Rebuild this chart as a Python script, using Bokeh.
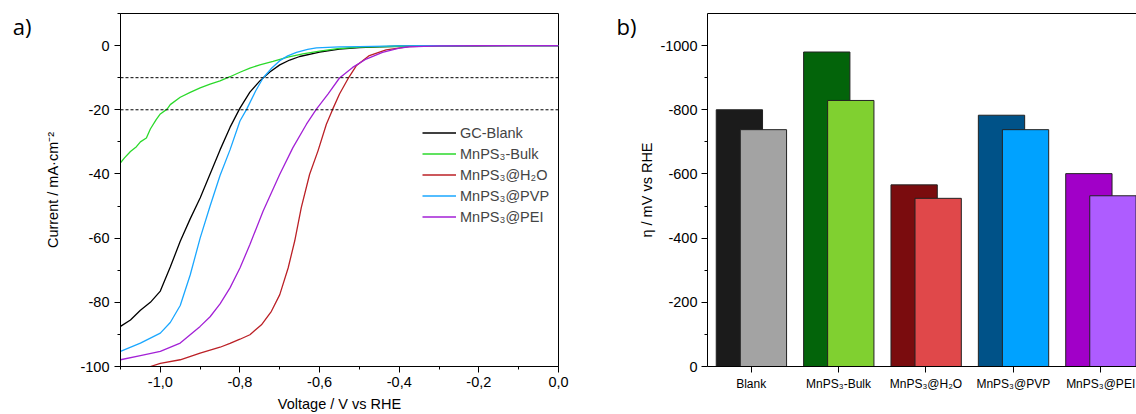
import numpy as np
from bokeh.plotting import figure
from bokeh.layouts import row
from bokeh.models import (Range1d, FixedTicker, Span, Legend, LegendItem,
                          LinearAxis, CustomJSTickFormatter, ColumnDataSource)
from bokeh.transform import dodge
from bokeh.embed import file_html
from bokeh.resources import INLINE

# ---------------- Panel a) polarisation curves ----------------
v_blank = [-1.10, -1.075, -1.05, -1.025, -1.00, -0.975, -0.95, -0.925, -0.90, -0.875, -0.85,
           -0.825, -0.80, -0.775, -0.75, -0.725, -0.70, -0.675, -0.65, -0.60, -0.55, -0.50,
           -0.45, -0.40, -0.30, -0.20, -0.10, 0.0]
j_blank = [-87.5, -85.5, -82.5, -80.0, -76.5, -69.0, -61.0, -54.0, -47.5, -40.0, -32.5,
           -25.5, -19.5, -14.5, -11.0, -8.2, -6.0, -4.5, -3.4, -2.0, -1.1, -0.6,
           -0.4, -0.2, -0.1, -0.05, 0.0, 0.0]

v_bulk = [-1.10, -1.09, -1.075, -1.06, -1.05, -1.035, -1.025, -1.01, -1.00, -0.983, -0.975,
          -0.95, -0.925, -0.90, -0.875, -0.85, -0.825, -0.80, -0.775, -0.75, -0.717, -0.68,
          -0.642, -0.60, -0.55, -0.50, -0.40, -0.30, -0.20, 0.0]
j_bulk = [-36.5, -35.0, -33.0, -31.5, -30.0, -28.8, -26.0, -23.0, -21.3, -19.8, -18.4,
          -16.1, -14.6, -13.2, -12.0, -11.0, -9.7, -8.3, -7.0, -6.0, -4.9, -3.6,
          -2.6, -1.7, -0.9, -0.5, -0.2, -0.1, 0.0, 0.0]

v_h2o = [-1.10, -1.05, -1.025, -1.00, -0.95, -0.90, -0.85, -0.825, -0.80, -0.775, -0.746,
         -0.721, -0.70, -0.679, -0.6625, -0.646, -0.625, -0.604, -0.583, -0.567, -0.55,
         -0.529, -0.508, -0.475, -0.433, -0.375, -0.30, -0.20, 0.0]
j_h2o = [-103.0, -101.0, -100.0, -99.0, -97.9, -95.8, -94.0, -92.8, -91.5, -90.1, -87.0,
         -82.8, -77.6, -69.3, -60.9, -50.5, -40.1, -32.8, -24.5, -19.8, -15.1,
         -10.4, -6.3, -3.1, -1.35, -0.3, -0.1, 0.0, 0.0]

v_pvp = [-1.10, -1.05, -1.00, -0.975, -0.95, -0.925, -0.90, -0.875, -0.85, -0.825, -0.80,
         -0.783, -0.76, -0.742, -0.72, -0.70, -0.68, -0.658, -0.63, -0.608, -0.55, -0.50,
         -0.40, -0.30, -0.20, 0.0]
j_pvp = [-95.3, -92.7, -89.6, -86.3, -81.0, -71.5, -60.0, -50.0, -40.5, -32.5, -23.5,
         -19.8, -14.0, -10.1, -7.0, -4.7, -3.2, -2.1, -1.2, -0.7, -0.4, -0.3,
         -0.1, -0.05, 0.0, 0.0]

v_pei = [-1.10, -1.05, -1.00, -0.95, -0.90, -0.875, -0.85, -0.825, -0.80, -0.775, -0.742,
         -0.70, -0.667, -0.633, -0.608, -0.579, -0.55, -0.517, -0.483, -0.442, -0.40,
         -0.375, -0.30, -0.20, 0.0]
j_pei = [-97.9, -96.6, -95.3, -92.7, -87.5, -84.5, -80.5, -75.5, -69.3, -62.0, -51.6,
         -40.1, -31.8, -24.5, -19.8, -15.1, -10.1, -6.8, -4.2, -2.1, -0.8,
         -0.4, -0.1, 0.0, 0.0]

series_names = ["GC-Blank", "MnPS\u2083-Bulk", "MnPS\u2083@H\u2082O", "MnPS\u2083@PVP", "MnPS\u2083@PEI"]
series_colors = ["#000000", "#2bd92b", "#bb2026", "#1aa7ff", "#a321d6"]
reference_currents = [-10, -20]

x_major = [-1.0, -0.8, -0.6, -0.4, -0.2, 0.0]
x_minor = [-1.1, -0.9, -0.7, -0.5, -0.3, -0.1]
y_major = [0, -20, -40, -60, -80, -100]
y_minor = [10, -10, -30, -50, -70, -90]

# ---------------- Panel b) overpotentials ----------------
categories = ["Blank", "MnPS\u2083-Bulk", "MnPS\u2083@H\u2082O", "MnPS\u2083@PVP", "MnPS\u2083@PEI"]
eta_20 = [-800, -980, -566, -783, -601]
eta_10 = [-738, -829, -524, -738, -532]
dark_colors = ["#1b1b1b", "#03640a", "#7a0c0e", "#005288", "#a100c8"]
light_colors = ["#a3a3a3", "#80d030", "#e0484a", "#00a2ff", "#ae5cff"]
b_major = [0, -200, -400, -600, -800, -1000]
b_minor = [-100, -300, -500, -700, -900]

panel_tags = ["a)", "b)"]
tag_level_a = 6        # y value (panel a) at which the tag sits
tag_level_b = -1060    # y value (panel b) at which the tag sits

FONT = "Liberation Sans"
FS = "14.5px"
INT_FMT = "return tick.toFixed(0);"

def style_axis(ax):
    ax.axis_line_color = "black"
    ax.axis_line_width = 1
    ax.major_tick_line_color = "black"
    ax.minor_tick_line_color = "black"
    ax.major_tick_in = 0
    ax.major_tick_out = 6
    ax.minor_tick_in = 0
    ax.minor_tick_out = 3
    ax.major_label_text_font = FONT
    ax.major_label_text_font_size = FS
    ax.major_label_text_color = "black"
    ax.axis_label_text_font = FONT
    ax.axis_label_text_font_size = FS
    ax.axis_label_text_font_style = "normal"
    ax.axis_label_text_color = "black"

def tag_axis(tag, level, standoff):
    return LinearAxis(ticker=FixedTicker(ticks=[level], minor_ticks=[]),
                      formatter=CustomJSTickFormatter(code="return '%s';" % tag),
                      axis_line_color=None, major_tick_line_color=None,
                      minor_tick_line_color=None, major_tick_in=0, major_tick_out=0,
                      minor_tick_in=0, minor_tick_out=0, major_label_standoff=standoff,
                      major_label_text_font="Open Sans", major_label_text_font_size="22px",
                      major_label_text_color="black", major_label_orientation="horizontal")

# ---- figure a
p1 = figure(width=600, height=414, output_backend="svg", toolbar_location=None,
            x_range=Range1d(-1.1, 0.0), y_range=Range1d(-100, 10),
            min_border_left=120, min_border_right=42, min_border_top=13, min_border_bottom=48)
p1.grid.visible = False
p1.outline_line_color = "black"
p1.outline_line_width = 1
p1.background_fill_color = "white"
p1.border_fill_color = "white"

for yref in reference_currents:
    p1.add_layout(Span(location=yref, dimension="width", line_color="black",
                       line_width=1, line_dash="3 2"))

data = [(v_blank, j_blank), (v_bulk, j_bulk), (v_h2o, j_h2o), (v_pvp, j_pvp), (v_pei, j_pei)]
items = []
for (vv, jj), name, col in zip(data, series_names, series_colors):
    r = p1.line(vv, jj, line_color=col, line_width=1.3)
    items.append(LegendItem(label=name, renderers=[r]))

legend = Legend(items=items, location=(302, 139), border_line_color=None,
                background_fill_alpha=0, padding=0, margin=0, spacing=0,
                glyph_height=21, glyph_width=34, label_height=21, label_standoff=4,
                label_text_font=FONT, label_text_font_size=FS)
p1.add_layout(legend)

p1.xaxis.ticker = FixedTicker(ticks=x_major, minor_ticks=x_minor)
p1.xaxis.formatter = CustomJSTickFormatter(code="return tick.toFixed(1).replace('.', ',');")
p1.yaxis.ticker = FixedTicker(ticks=y_major, minor_ticks=y_minor)
p1.yaxis.formatter = CustomJSTickFormatter(code=INT_FMT)
p1.xaxis.axis_label = "Voltage / V vs RHE"
p1.yaxis.axis_label = "Current / mA\u00b7cm\u207b\u00b2"
style_axis(p1.xaxis[0])
style_axis(p1.yaxis[0])
p1.xaxis.major_label_standoff = 4
p1.xaxis.axis_label_standoff = 6
p1.yaxis.major_label_standoff = 5
p1.yaxis.axis_label_standoff = 16

p1.add_layout(tag_axis(panel_tags[0], tag_level_a, 11), "left")

# ---- figure b
xpos = np.arange(1, len(categories) + 1)
src = ColumnDataSource(dict(x=xpos, eta_20=eta_20, eta_10=eta_10,
                            dark=dark_colors, light=light_colors))
p2 = figure(width=536, height=414, output_backend="svg", toolbar_location=None,
            x_range=Range1d(0.5, 5.41), y_range=Range1d(0, -1100),
            min_border_left=107, min_border_right=0, min_border_top=13, min_border_bottom=48)
p2.grid.visible = False
p2.outline_line_color = None
p2.background_fill_color = "white"
p2.border_fill_color = "white"

p2.vbar(x=dodge("x", -0.135), top="eta_20", bottom=0, width=0.53, source=src,
        fill_color="dark", line_color="#222222", line_width=1)
p2.vbar(x=dodge("x", 0.14), top="eta_10", bottom=0, width=0.53, source=src,
        fill_color="light", line_color="#222222", line_width=1)

p2.xaxis.ticker = FixedTicker(ticks=list(xpos), minor_ticks=[])
p2.xaxis.major_label_overrides = {int(i): c for i, c in zip(xpos, categories)}
p2.yaxis.ticker = FixedTicker(ticks=b_major, minor_ticks=b_minor)
p2.yaxis.formatter = CustomJSTickFormatter(code=INT_FMT)
p2.yaxis.axis_label = "\u03b7 / mV vs RHE"
style_axis(p2.xaxis[0])
style_axis(p2.yaxis[0])
p2.xaxis.major_label_text_font_size = "12px"
p2.xaxis.major_label_standoff = 4
p2.yaxis.major_label_standoff = 4
p2.yaxis.axis_label_standoff = 2

top_axis = LinearAxis(ticker=FixedTicker(ticks=[], minor_ticks=[]),
                      major_tick_line_color=None, minor_tick_line_color=None,
                      major_tick_out=0, minor_tick_out=0, major_label_standoff=0,
                      axis_line_color="black")
p2.add_layout(top_axis, "above")

p2.add_layout(tag_axis(panel_tags[1], tag_level_b, 0), "left")

layout = row(p1, p2)
open("out.html", "w").write(file_html(layout, INLINE))
